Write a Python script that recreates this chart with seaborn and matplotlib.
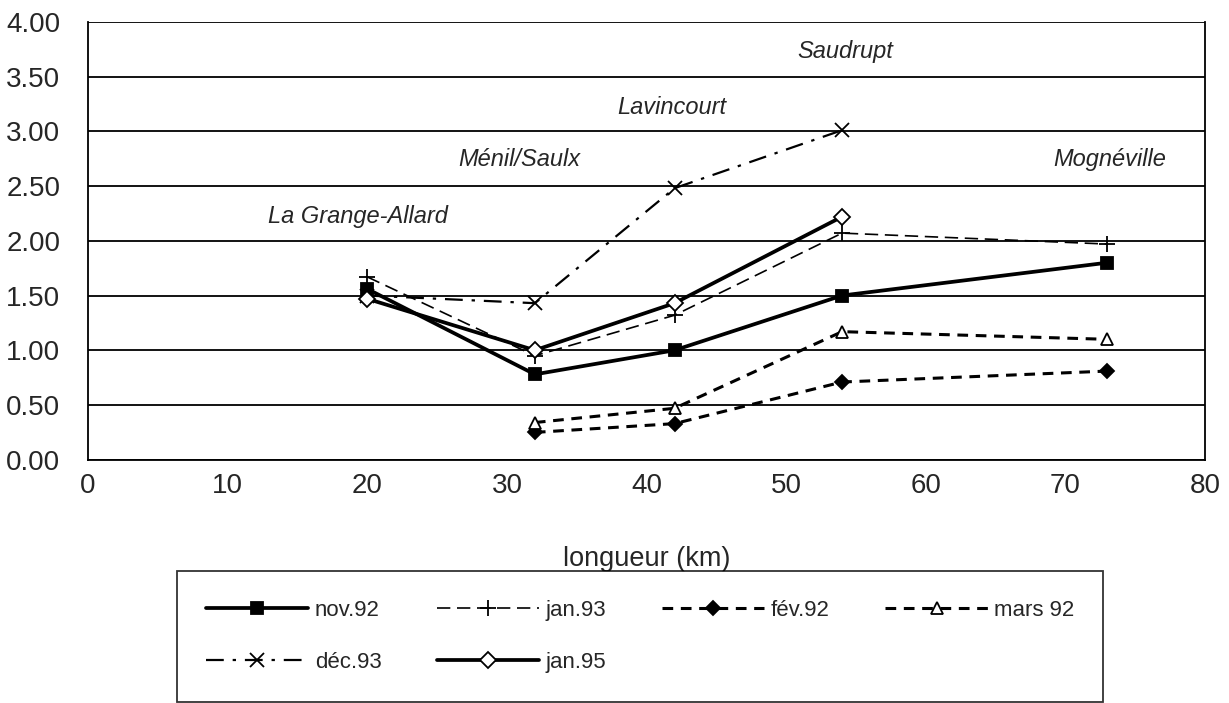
import pandas as pd
import seaborn as sns
import matplotlib.pyplot as plt

# distances along the river (km)
km = [20, 32, 42, 54, 73]

nov92 = [1.56, 0.78, 1.00, 1.50, 1.80]
jan93 = [1.67, 0.95, 1.32, 2.07, 1.97]
fev92 = [None, 0.25, 0.33, 0.71, 0.81]
mars92 = [None, 0.34, 0.47, 1.17, 1.10]
dec93 = [1.50, 1.43, 2.48, 3.01, None]
jan95 = [1.47, 1.00, 1.43, 2.22, None]

series = ['nov.92', 'jan.93', 'fév.92', 'mars 92', 'déc.93', 'jan.95']
values = [nov92, jan93, fev92, mars92, dec93, jan95]

sites = ['La Grange-Allard', 'Ménil/Saulx', 'Lavincourt', 'Saudrupt', 'Mognéville']
site_x = [19.3, 30.9, 41.8, 54.2, 73.2]
site_y = [2.22, 2.74, 3.22, 3.73, 2.74]

rows = []
for name, vals in zip(series, values):
    for x, v in zip(km, vals):
        if v is not None:
            rows.append({'km': x, 'val': v, 'serie': name})
df = pd.DataFrame(rows)

sns.set_style('white')
plt.rcParams['font.family'] = ['Liberation Sans', 'DejaVu Sans']

STYLES = {
    'nov.92':  dict(ls='-', lw=2.7, marker='s', ms=9, mfc='black'),
    'jan.93':  dict(ls=(0, (8, 4)), lw=1.2, marker='+', ms=12, mfc='black'),
    'fév.92':  dict(ls=(0, (3.5, 2.5)), lw=2.2, marker='D', ms=7, mfc='black'),
    'mars 92': dict(ls=(0, (3.5, 2.5)), lw=2.2, marker='^', ms=9, mfc='white'),
    'déc.93':  dict(ls=(0, (8, 4, 1.5, 4)), lw=1.6, marker='x', ms=10, mfc='black'),
    'jan.95':  dict(ls='-', lw=2.7, marker='D', ms=8, mfc='white'),
}

fig = plt.figure(figsize=(12.29, 7.03), dpi=100)
ax = fig.add_axes([0.0716, 0.346, 0.909, 0.623])

for name in series:
    st = STYLES[name]
    sub = df[df['serie'] == name]
    sns.lineplot(data=sub, x='km', y='val', ax=ax, color='black', label=name,
                 linestyle=st['ls'], linewidth=st['lw'], marker=st['marker'],
                 markersize=st['ms'], markerfacecolor=st['mfc'],
                 markeredgecolor='black', markeredgewidth=1.3)

for s, x, y in zip(sites, site_x, site_y):
    ax.text(x, y, s, ha='center', va='center', style='italic', fontsize=17)

ax.set_xlim(0, 80)
ax.set_ylim(0, 4)
ax.set_xticks(range(0, 81, 10))
ax.set_yticks([i * 0.5 for i in range(9)])
ax.set_yticklabels([f'{i * 0.5:.2f}' for i in range(9)])
ax.yaxis.grid(True, color='black', lw=1.3)
ax.set_axisbelow(True)
for sp in ['left', 'right', 'bottom']:
    ax.spines[sp].set_color('black')
    ax.spines[sp].set_linewidth(1.3)
ax.spines['top'].set_visible(False)
ax.tick_params(axis='x', direction='inout', length=11, width=1.3, color='black', labelsize=20, pad=4)
ax.tick_params(axis='y', direction='out', length=4.5, width=1.3, color='black', labelsize=20, pad=15.5)
ax.set_xlabel('longueur (km)', fontsize=19.5, labelpad=34)
ax.set_ylabel('')

# legend filled row by row like the original
ax.get_legend().remove()
h, l = ax.get_legend_handles_labels()
order = [0, 4, 1, 5, 2, 3]
leg = fig.legend([h[i] for i in order], [l[i] for i in order],
                 loc='upper left', bbox_to_anchor=(0.144, 0.188),
                 ncol=4, frameon=True, fancybox=False, fontsize=16,
                 handlelength=4.6, handletextpad=0.3, borderpad=1.3,
                 labelspacing=1.4, columnspacing=2.5, borderaxespad=0)
leg.get_frame().set_edgecolor('black')
leg.get_frame().set_linewidth(1.3)

fig.savefig('out.png', dpi=100)
